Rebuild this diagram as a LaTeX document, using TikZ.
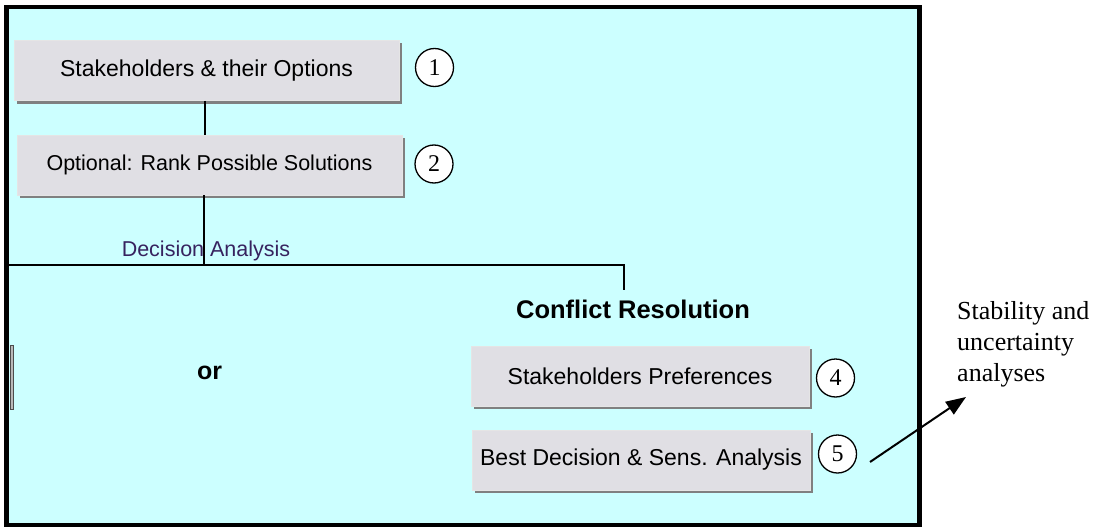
\documentclass[tikz,border=0pt]{standalone}
\usepackage{fontspec}
\setmainfont{Liberation Serif}
\setsansfont{Liberation Sans}
\usetikzlibrary{shadows,arrows.meta}
\definecolor{bgcyan}{RGB}{204,255,255}
\definecolor{boxgray}{RGB}{224,223,228}
\definecolor{shadowgray}{RGB}{128,128,128}
\definecolor{dalabel}{RGB}{55,35,95}
\begin{document}
\begin{tikzpicture}[x=1pt,y=-1pt,
  stepbox/.style={fill=boxgray, draw=white!80!gray, line width=0.8pt,
    minimum height=60pt, inner sep=0pt,
    font=\sffamily\fontsize{23}{27}\selectfont,
    drop shadow={shadow xshift=3pt, shadow yshift=-3pt, fill=shadowgray, opacity=1}},
  num/.style={circle, draw, fill=white, line width=1.3pt, minimum size=38pt,
    inner sep=0pt, font=\fontsize{24}{27}\selectfont},
  conn/.style={line width=2.6pt},
  sidebar/.style={fill=gray!55, draw=gray!60!black, line width=0.5pt}
]
\useasboundingbox (0,0) rectangle (1097,527);
% frame
\draw[line width=4.5pt, fill=bgcyan] (6.5,7) rectangle (919.5,525);
% small grey bar on left
\draw[sidebar] (10,345) rectangle (13,409);
% junction coordinates
\coordinate (x205) at (205,0);
\coordinate (j) at (204,265);
\coordinate (jl) at (6.5,265);
\coordinate (jr) at (624,265);
\coordinate (jd) at (624,290);
% boxes
\node[stepbox, minimum width=385pt] (b1) at (206.5,70.5) {Stakeholders \& their Options};
\node[stepbox, minimum width=385pt, font=\sffamily\fontsize{21.5}{25}\selectfont] (b2) at (209.5,165) {Optional: Rank Possible Solutions};
\node[stepbox, minimum width=338pt] (b4) at (640,376) {Stakeholders Preferences};
\node[stepbox, minimum width=338pt] (b5) at (641,460) {Best Decision \& Sens. Analysis};
% connectors
\draw[conn] (b1.south -| x205) -- (b2.north -| x205);
\draw[conn] (b2.south -| j) -- (j);
\draw[conn] (jl) -- (jr) -- (jd);
% numbers
\node[num] (n1) at (434.5,67.5) {1};
\node[num] (n2) at (434,164) {2};
\node[num] (n4) at (835.5,378) {4};
\node[num] (n5) at (837.5,454) {5};
% labels
\node[font=\sffamily\fontsize{21.5}{25}\selectfont, text=dalabel] (da) at (206,251) {Decision Analysis};
\node[font=\sffamily\bfseries\fontsize{25.5}{30}\selectfont] (cr) at (633,309) {Conflict Resolution};
\node[font=\sffamily\bfseries\fontsize{25}{30}\selectfont] (or) at (209.5,373) {or};
\node[font=\fontsize{26}{31}\selectfont, align=left, anchor=north west, inner sep=0pt] (st) at (957,301) {Stability and\\uncertainty\\analyses};
% arrow
\coordinate (as) at (870,462);
\coordinate (at) at (966,397);
\draw[line width=2pt, -{Triangle[length=20pt,width=15pt]}] (as) -- (at);
\end{tikzpicture}
\end{document}
